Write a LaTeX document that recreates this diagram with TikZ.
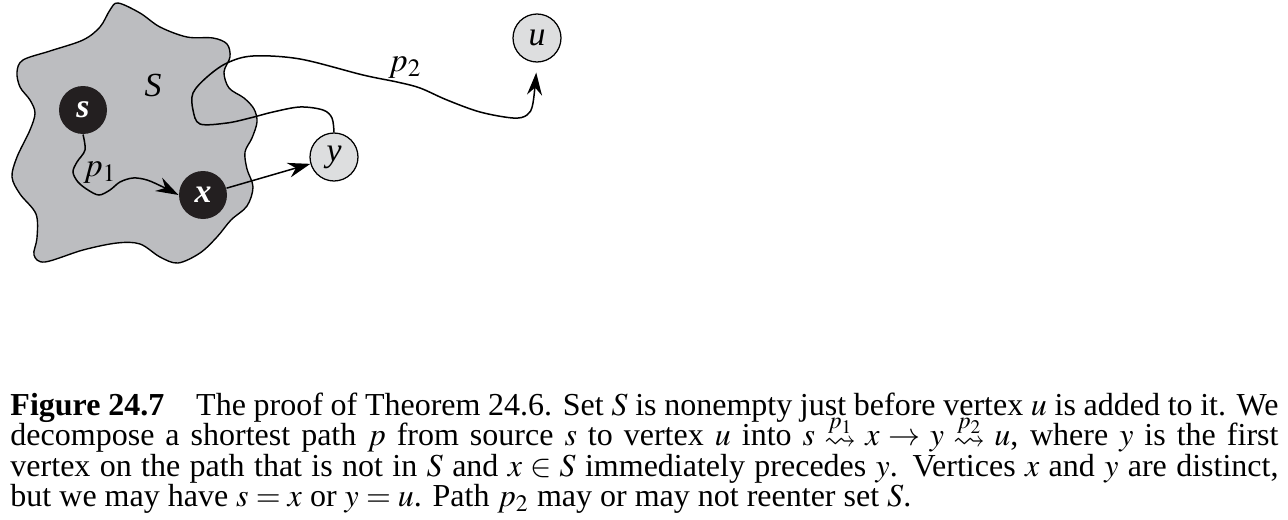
\documentclass[tikz,border=0pt]{standalone}
\usepackage{amssymb}
\usepackage{mathptmx}
\usepackage{fontspec}
\setmainfont{Liberation Serif}
\usetikzlibrary{arrows.meta}
\definecolor{blobgray}{RGB}{188,189,192}
\definecolor{nodegray}{RGB}{221,222,223}
\definecolor{nodeblack}{RGB}{35,31,32}
\newcommand{\sqto}[1]{\mathrel{\smash{\raisebox{-1.5pt}{$\stackrel{\raisebox{-3.8pt}{$\scriptstyle #1$}}{\rightsquigarrow}$}}}}
\tikzset{
  vblack/.style={circle, fill=nodeblack, minimum size=19.2pt, inner sep=0pt, text=white, font=\fontsize{13.5}{13.5}\selectfont\bfseries\itshape},
  vgray/.style={circle, draw, line width=0.5pt, fill=nodegray, minimum size=19.2pt, inner sep=0pt, font=\fontsize{13.5}{13.5}\selectfont\itshape},
  conn/.style={line width=0.6pt, -{Stealth[length=9pt,width=6pt,inset=3pt]}},
  blob/.style={fill=blobgray, draw=black, line width=0.55pt},
  lbl/.style={inner sep=0pt, font=\fontsize{13.5}{13.5}\selectfont},
  captext/.style={anchor=base west, inner sep=0pt, text width=507.2pt, align=justify,
      font=\fontsize{12.8}{12.25}\selectfont}
}
\begin{document}
\begin{tikzpicture}[x=0.4pt,y=-0.4pt]
\useasboundingbox (0,0) rectangle (1288,520);
% set S
\path[blob] plot[smooth cycle, tension=0.55] coordinates {
 (118,3) (140,13) (160,27) (187,37) (213,38) (227,44) (230,57) (224,72) (229,88)
 (244,98) (254,109) (257,122) (252,138) (245,152) (247,169) (253,187) (247,206)
 (231,220) (217,237) (200,253) (178,263) (160,257) (140,244) (117,243) (83,250)
 (45,262) (34,255) (37,238) (36,214) (20,194) (12,177) (17,157) (30,130)
 (35,113) (30,100) (20,87) (17,72) (23,60) (50,51) (83,40) (100,27) (110,10)};
\node[lbl] (S) at (153,85) {\itshape S};
% vertices
\node[vblack] (s) at (83,110) {s};
\node[vblack] (x) at (203,195) {x};
\node[vgray] (y) at (334,157) {y};
\node[vgray] (u) at (537,38) {u};
% p1
\draw[conn] plot[smooth, tension=0.55] coordinates {
 (s.south) (85,150) (77,162) (73,172) (78,182) (88,190) (99,195) (110,190)
 (120,182) (133,178) (147,180) (163,187) (x.west)};
\node[lbl] (p1) at (100,173) {$p_1$};
% x -> y
\draw[conn] (x) -- (y);
% p2
\draw[conn, shorten >=4pt] plot[smooth, tension=0.55] coordinates {
 (y.north) (332,118) (323,110) (300,107) (273,112) (250,118) (227,123) (200,124)
 (193,110) (193,93) (207,77) (227,63) (253,56) (300,59) (363,75) (397,82)
 (420,88) (447,100) (480,112) (513,118) (527,115) (533,103) (u.south)};
\node[lbl] (p2) at (405,68) {$p_2$};
% caption
\node[captext] (cap) at (10,415)
{\textbf{Figure 24.7}\hspace{1em}The proof of Theorem 24.6. Set $S$ is nonempty just before vertex $u$ is added to it. We\linebreak
decompose a shortest path $p$ from source $s$ to vertex $u$ into $s \sqto{p_1} x \rightarrow y \sqto{p_2} u$, where $y$ is the first\linebreak
vertex on the path that is not in $S$ and $x \in S$ immediately precedes $y$. Vertices $x$ and $y$ are distinct,\linebreak
but we may have $s = x$ or $y = u$. Path $p_2$ may or may not reenter set $S$.};
\end{tikzpicture}
\end{document}
